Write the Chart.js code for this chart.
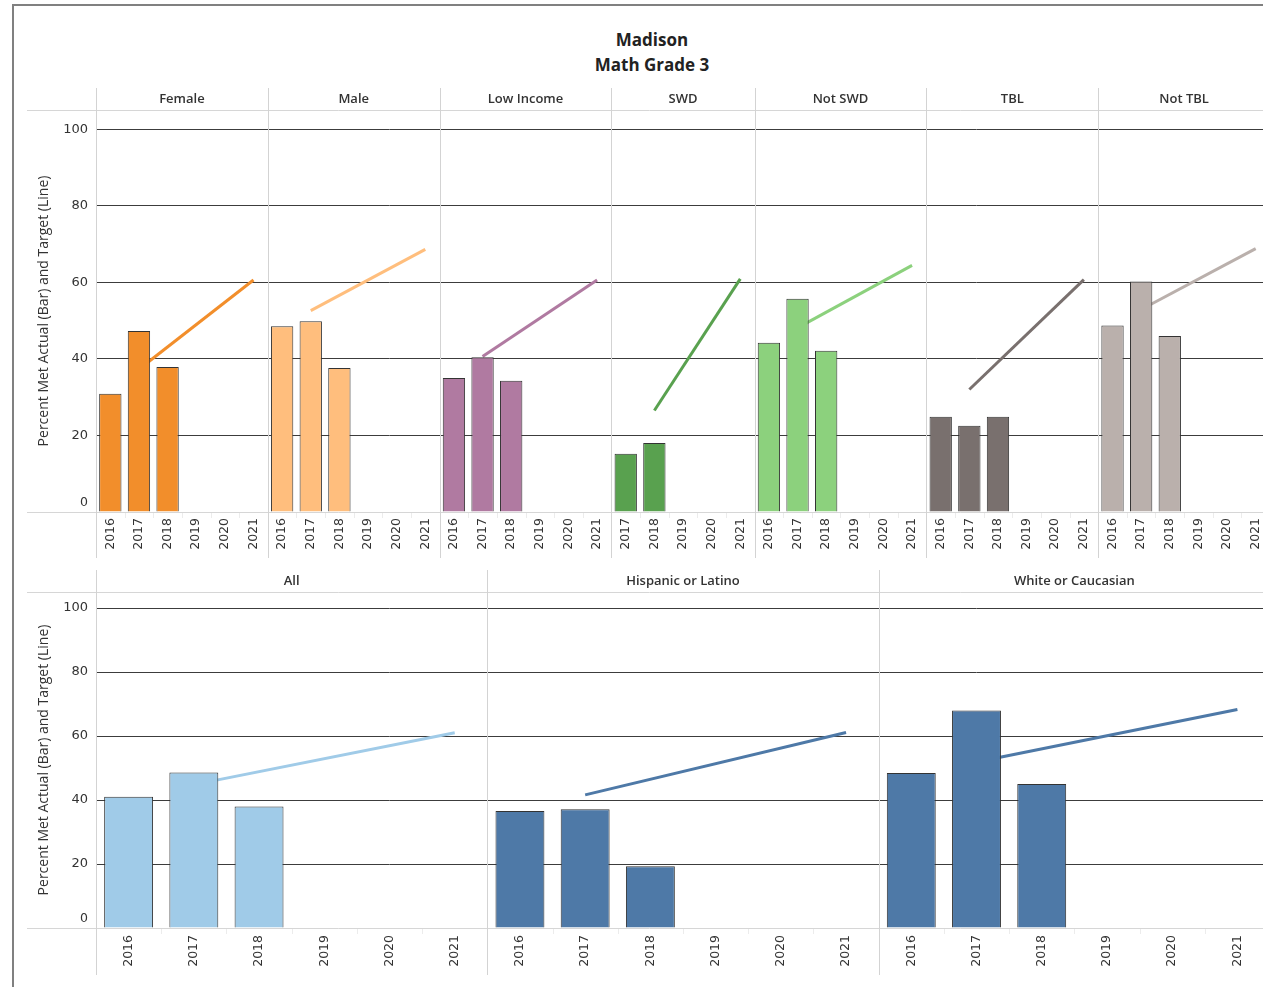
<!DOCTYPE html>
<html lang="en">
<head>
<meta charset="UTF-8">
<title>Madison Math Grade 3</title>
<style>
  html, body { margin: 0; padding: 0; background: #fff; overflow: hidden; }
  body { width: 1263px; height: 987px; position: relative; }
  #frame { position: absolute; left: 12px; top: 4px; width: 1300px; height: 1000px;
           border-left: 2px solid #808080; border-top: 2px solid #808080; }
  #title { position: absolute; left: 452px; width: 400px; top: 27px; text-align: center;
           font: bold 17px 'Open Sans', sans-serif; line-height: 25px; color: #222; }
  .row { position: absolute; left: 0; width: 1272px; }
  .row canvas { display: block; width: 1272px; }
  #topRow { top: 80px; height: 480px; }
  #topRow canvas { height: 480px; }
  #bottomRow { top: 562px; height: 425px; }
  #bottomRow canvas { height: 425px; }
</style>
</head>
<body>
<div id="frame"></div>
<div id="title">Madison<br>Math Grade 3</div>
<div class="row" id="topRow"><canvas id="topChart" width="1272" height="480"></canvas></div>
<div class="row" id="bottomRow"><canvas id="bottomChart" width="1272" height="425"></canvas></div>
<script src="https://cdn.jsdelivr.net/npm/chart.js@4.4.1/dist/chart.umd.min.js"></script>
<script>
// ---- data ----
const years = ['2016', '2017', '2018', '2019', '2020', '2021'];
const yearsSWD = ['2017', '2018', '2019', '2020', '2021'];

const femaleActual = [30.9, 47.3, 37.9, null, null, null];
const femaleTarget = [null, 37.3, null, null, null, 60.6];
const maleActual = [48.5, 49.8, 37.6, null, null, null];
const maleTarget = [null, 52.6, null, null, null, 68.6];
const lowIncomeActual = [35.0, 40.4, 34.3, null, null, null];
const lowIncomeTarget = [null, 40.6, null, null, null, 60.6];
const swdActual = [15.2, 18.0, null, null, null];
const swdTarget = [null, 26.5, null, null, 60.9];
const notSwdActual = [44.2, 55.7, 42.1, null, null, null];
const notSwdTarget = [null, 48.1, null, null, null, 64.4];
const tblActual = [24.9, 22.5, 24.9, null, null, null];
const tblTarget = [null, 32.0, null, null, null, 60.7];
const notTblActual = [48.7, 60.2, 46.0, null, null, null];
const notTblTarget = [null, 52.9, null, null, null, 68.8];

const allActual = [41.0, 48.6, 38.0, null, null, null];
const allTarget = [null, 44.8, null, null, null, 61.0];
const hispanicActual = [36.6, 37.1, 19.3, null, null, null];
const hispanicTarget = [null, 41.6, null, null, null, 61.1];
const whiteActual = [48.4, 68.0, 45.0, null, null, null];
const whiteTarget = [null, 51.9, null, null, null, 68.3];

const topGroups = [
  { name: 'Female', years: years, actual: femaleActual, target: femaleTarget },
  { name: 'Male', years: years, actual: maleActual, target: maleTarget },
  { name: 'Low Income', years: years, actual: lowIncomeActual, target: lowIncomeTarget },
  { name: 'SWD', years: yearsSWD, actual: swdActual, target: swdTarget },
  { name: 'Not SWD', years: years, actual: notSwdActual, target: notSwdTarget },
  { name: 'TBL', years: years, actual: tblActual, target: tblTarget },
  { name: 'Not TBL', years: years, actual: notTblActual, target: notTblTarget }
];
const bottomGroups = [
  { name: 'All', years: years, actual: allActual, target: allTarget },
  { name: 'Hispanic or Latino', years: years, actual: hispanicActual, target: hispanicTarget },
  { name: 'White or Caucasian', years: years, actual: whiteActual, target: whiteTarget }
];

// styles
const topColors = ['#F28E2B', '#FFBE7D', '#B07AA1', '#59A14F', '#8CD17D', '#79706E', '#BAB0AC'];
const bottomColors = ['#A0CBE8', '#4E79A7', '#4E79A7'];
const yTitle = 'Percent Met Actual (Bar) and Target (Line)';
const tickFont = { family: 'DejaVu Sans', size: 12.5 };

// draws panel headers, dividers and the light axis lines (Tableau style)
const panelPlugin = {
  id: 'panels',
  beforeDatasetsDraw(chart, args, o) {
    const ctx = chart.ctx, x = chart.scales.x, y = chart.scales.y, area = chart.chartArea;
    const step = x.getPixelForValue(1) - x.getPixelForValue(0);
    ctx.save();
    ctx.lineWidth = 1;
    // header bottom line + zero line
    ctx.strokeStyle = '#d6d6d6';
    ctx.beginPath();
    ctx.moveTo(o.left, Math.round(area.top) + 0.5); ctx.lineTo(chart.width, Math.round(area.top) + 0.5);
    ctx.moveTo(o.left, Math.round(area.bottom) + 0.5); ctx.lineTo(chart.width, Math.round(area.bottom) + 0.5);
    ctx.stroke();
    // small separators between categories under the axis
    ctx.strokeStyle = '#ececec';
    ctx.beginPath();
    for (let i = 1; i < x.ticks.length; i++) {
      const px = Math.round(x.getPixelForValue(i) - step / 2) + 0.5;
      ctx.moveTo(px, area.bottom + 1); ctx.lineTo(px, area.bottom + 6);
    }
    ctx.stroke();
    // panel dividers and headers
    ctx.strokeStyle = '#d3d3d3';
    ctx.fillStyle = '#333';
    ctx.font = '600 13px "Open Sans", sans-serif';
    ctx.textAlign = 'center';
    ctx.textBaseline = 'middle';
    let start = 0;
    o.groups.forEach(g => {
      const left = x.getPixelForValue(start) - step / 2;
      const right = left + step * g.years.length;
      const px = Math.round(left) + 0.5;
      ctx.beginPath();
      ctx.moveTo(px, o.headerTop); ctx.lineTo(px, o.bottomExtent);
      ctx.stroke();
      ctx.fillText(g.name, (left + right) / 2, o.headerY);
      start += g.years.length;
    });
    // the zero label sits just above the baseline, as in Tableau
    ctx.font = tickFont.size + 'px "' + tickFont.family + '"';
    ctx.textAlign = 'right';
    ctx.fillText('0', y.right - 8, area.bottom - 9);
    ctx.restore();
  }
};

function buildChart(id, groups, colors, opts) {
  const labels = [];
  const actual = [];
  const barColors = [];
  groups.forEach((g, gi) => {
    g.years.forEach((yr, i) => {
      labels.push(yr);
      actual.push(g.actual[i]);
      barColors.push(colors[gi]);
    });
  });
  const datasets = [{
    type: 'bar',
    label: 'Actual',
    data: actual,
    backgroundColor: barColors,
    borderColor: '#333',
    borderWidth: 1,
    barPercentage: opts.barPct,
    categoryPercentage: 1,
    order: 0
  }];
  let offset = 0;
  groups.forEach((g, gi) => {
    const line = labels.map(() => null);
    g.target.forEach((v, i) => { line[offset + i] = v; });
    datasets.push({
      type: 'line',
      label: g.name + ' Target',
      data: line,
      borderColor: colors[gi],
      borderWidth: 3,
      pointRadius: 0,
      spanGaps: true,
      fill: false,
      order: 1
    });
    offset += g.years.length;
  });

  return new Chart(document.getElementById(id).getContext('2d'), {
    type: 'bar',
    data: { labels: labels, datasets: datasets },
    plugins: [panelPlugin],
    options: {
      responsive: false,
      animation: false,
      layout: { padding: { top: 30, left: 27, right: 2, bottom: 0 } },
      plugins: {
        legend: { display: false },
        tooltip: { enabled: false },
        panels: { groups: groups, left: 27, headerTop: 8, headerY: 19, bottomExtent: opts.bottomExtent }
      },
      scales: {
        x: {
          type: 'category',
          offset: true,
          grid: { display: false },
          border: { display: false },
          ticks: {
            autoSkip: false, minRotation: 90, maxRotation: 90, padding: opts.xPad,
            color: '#333', font: tickFont
          },
          afterFit(s) { s.height = opts.xAxisH; }
        },
        y: {
          min: 0, max: 105,
          border: { display: false },
          grid: {
            drawTicks: false,
            color: c => (c.tick && c.tick.value === 0) ? 'rgba(0,0,0,0)' : '#3c3c3c'
          },
          ticks: {
            stepSize: 20, includeBounds: false, padding: 8,
            color: '#333', font: { family: 'DejaVu Sans', size: 13 },
            callback: v => (v === 0 ? '' : v)
          },
          title: {
            display: true, text: yTitle, color: '#333',
            font: { family: '"Open Sans", sans-serif', size: 14 },
            padding: { top: 9, bottom: 0 }
          },
          afterFit(s) { s.width = 69; }
        }
      }
    }
  });
}

buildChart('topChart', topGroups, topColors, { barPct: 0.78, xAxisH: 48, xPad: -2, bottomExtent: 478 });
buildChart('bottomChart', bottomGroups, bottomColors, { barPct: 0.75, xAxisH: 59, xPad: -1, bottomExtent: 413 });
</script>
</body>
</html>
